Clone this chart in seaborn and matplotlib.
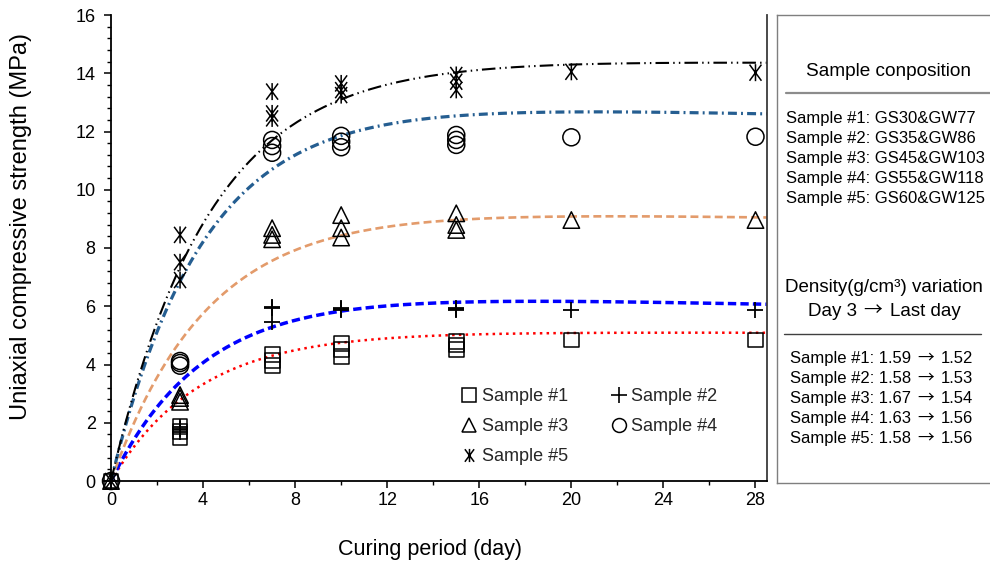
import numpy as np
import pandas as pd
import seaborn as sns
import matplotlib.pyplot as plt
from matplotlib.path import Path
from matplotlib.lines import Line2D
from matplotlib.ticker import MultipleLocator

# ---------------- data ----------------
days = [0, 3, 3, 3, 7, 7, 7, 10, 10, 10, 15, 15, 15, 20, 28]
sample1 = [0, 1.86, 1.69, 1.50, 4.33, 4.15, 3.98, 4.73, 4.50, 4.27, 4.78, 4.67, 4.50, 4.84, 4.84]
sample2 = [0, 1.87, 1.80, 1.69, 5.99, 5.93, 5.47, 5.95, 5.90, 5.87, 5.94, 5.90, 5.87, 5.87, 5.87]
sample3 = [0, 2.95, 2.85, 2.72, 8.68, 8.45, 8.30, 9.13, 8.68, 8.36, 9.19, 8.79, 8.62, 8.96, 8.96]
sample4 = [0, 4.12, 4.05, 3.96, 11.71, 11.50, 11.27, 11.85, 11.65, 11.46, 11.88, 11.71, 11.54, 11.80, 11.82]
sample5 = [0, 8.45, 7.51, 6.90, 13.37, 12.62, 12.45, 13.65, 13.42, 13.25, 13.94, 13.71, 13.43, 14.05, 14.02]

sample_names = ["Sample #1", "Sample #2", "Sample #3", "Sample #4", "Sample #5"]

# trend line: f(t) = A * (1 - exp(-k t)) + d * t
trend_A = [5.15, 6.53, 9.40, 13.10, 14.55]
trend_k = [0.26, 0.25, 0.24, 0.25, 0.235]
trend_d = [-0.002, -0.016, -0.012, -0.017, -0.006]

composition_labels = [
    "Sample #1: GS30&GW77",
    "Sample #2: GS35&GW86",
    "Sample #3: GS45&GW103",
    "Sample #4: GS55&GW118",
    "Sample #5: GS60&GW125",
]
density_day3 = [1.59, 1.58, 1.67, 1.63, 1.58]
density_last = [1.52, 1.53, 1.54, 1.56, 1.56]

# ---------------- styling ----------------
sns.set_theme(style="white")
plt.rcParams["font.family"] = ["Liberation Sans", "DejaVu Sans"]

W, H = 990, 567
fig = plt.figure(figsize=(W / 100, H / 100), dpi=100)
renderer = fig.canvas.get_renderer()


def fx(x):
    return x / W


def fy(y):
    return 1 - y / H


ax = fig.add_axes([fx(111), fy(481), fx(767) - fx(111), fy(15) - fy(481)])

# asterisk marker: vertical stroke plus a narrow X
asterisk = Path(
    [(0, -1), (0, 1), (-0.7, -0.95), (0.7, 0.95), (-0.7, 0.95), (0.7, -0.95)],
    [Path.MOVETO, Path.LINETO, Path.MOVETO, Path.LINETO, Path.MOVETO, Path.LINETO],
)
markers = ["s", "+", "^", "o", asterisk]
sizes = [115, 140, 140, 150, 150]

df = pd.DataFrame({"day": days})
for name, vals in zip(sample_names, [sample1, sample2, sample3, sample4, sample5]):
    df[name] = vals

for name, m, s in zip(sample_names, markers, sizes):
    if m == "+":
        sns.scatterplot(data=df, x="day", y=name, marker=m, s=s, color="black",
                        linewidth=1.3, ax=ax, clip_on=False, zorder=3)
    else:
        sns.scatterplot(data=df, x="day", y=name, marker=m, s=s, facecolor="none",
                        edgecolor="black", linewidth=1.1, ax=ax, clip_on=False, zorder=3)

# trend lines
line_colors = ["#FF0000", "#0000FF", "#E39B6B", "#255E91", "#000000"]
line_widths = [1.8, 2.5, 1.9, 2.3, 1.5]
line_dashes = [
    (1.0, 1.7),
    (2.4, 1.2),
    (3.0, 1.6),
    (2.8, 1.3, 0.6, 1.3),
    (6.5, 2.0, 0.7, 2.0, 0.7, 2.0),
]
t = np.linspace(0, 28.6, 400)
for A, k, d, c, lw, dash in zip(trend_A, trend_k, trend_d, line_colors, line_widths, line_dashes):
    sns.lineplot(x=t, y=A * (1 - np.exp(-k * t)) + d * t, ax=ax, color=c,
                 linewidth=lw, linestyle=(0, dash), estimator=None, zorder=2)

ax.set_xlim(0, 28.5)
ax.set_ylim(0, 16)
ax.xaxis.set_major_locator(MultipleLocator(4))
ax.xaxis.set_minor_locator(MultipleLocator(2))
ax.yaxis.set_major_locator(MultipleLocator(2))
ax.yaxis.set_minor_locator(MultipleLocator(0.4))
ax.tick_params(axis="both", which="major", direction="out", length=5, width=1.1,
               color="black", labelsize=13, labelcolor="black")
ax.tick_params(axis="y", which="major", pad=6)
ax.tick_params(axis="x", which="major", pad=3)
ax.tick_params(axis="both", which="minor", direction="out", length=3, width=1.0, color="black")
ax.tick_params(bottom=True, left=True, which="both")

for side in ["left", "bottom"]:
    ax.spines[side].set_color("black")
    ax.spines[side].set_linewidth(1.3)
ax.spines["right"].set_color("#3a3a3a")
ax.spines["right"].set_linewidth(1.3)
ax.spines["top"].set_visible(False)

ax.set_xlabel("Curing period (day)", fontsize=15.5, color="black")
ax.set_ylabel("Uniaxial compressive strength (MPa)", fontsize=17, color="black")
ax.xaxis.set_label_coords((430 - 111) / 656, (481 - 549) / 466)
ax.yaxis.set_label_coords((21 - 111) / 656, (481 - 226) / 466)
ax.xaxis.label.set_va("center")
ax.yaxis.label.set_va("center")
ax.yaxis.label.set_ha("center")

# legend: rows S1/S2, S3/S4, S5
order = [0, 2, 4, 1, 3]
handles = []
for i in order:
    m = markers[i]
    if m == "+":
        h = Line2D([], [], marker=m, linestyle="none", color="black", markersize=11, mew=1.2)
    else:
        h = Line2D([], [], marker=m, linestyle="none", markerfacecolor="none",
                   markeredgecolor="black", markersize=9.5 if m != "o" else 10, mew=1.1)
    handles.append(h)
ax.legend(handles, [sample_names[i] for i in order], ncol=2, frameon=False,
          loc="upper left", bbox_to_anchor=((462 - 111) / 656, (481 - 388) / 466),
          borderaxespad=0, borderpad=0, fontsize=13, handlelength=0.8,
          handletextpad=0.3, columnspacing=2.4, labelspacing=0.72)

# ---------------- side panel ----------------
panel = fig.add_axes([fx(777), fy(483), fx(1010) - fx(777), fy(15) - fy(483)])
panel.set_xticks([])
panel.set_yticks([])
for sp in panel.spines.values():
    sp.set_color("#7f7f7f")
    sp.set_linewidth(1.0)
panel.set_facecolor("white")


def arrow_line(x, y_base, left, right, size, center=False):
    """Write 'left → right' on one baseline with a thin CJK-font arrow."""
    pieces = [(left, size, None), ("\u2192", size, ["Noto Sans CJK KR", "DejaVu Sans"]),
              (right, size, None)]
    texts = []
    for s, fs, fam in pieces:
        kw = dict(fontsize=fs, ha="left", va="baseline", color="black")
        if fam:
            kw["family"] = fam
        texts.append(fig.text(0, 0, s, **kw))
    widths = [tx.get_window_extent(renderer).width for tx in texts]
    gap = size * 100 / 72 * 0.38
    total = sum(widths) + gap * (len(texts) - 1)
    cur = x - total / 2 if center else x
    for tx, w in zip(texts, widths):
        tx.set_position((cur / W, fy(y_base)))
        cur += w + gap


fig.text(fx(888), fy(71), "Sample conposition", fontsize=13.7, ha="center", va="center",
         color="black")
fig.add_artist(Line2D([fx(786), fx(995)], [fy(93), fy(93)], color="#8c8c8c", lw=1.6))
for i, lab in enumerate(composition_labels):
    fig.text(fx(786), fy(118 + 20 * i), lab, fontsize=12, ha="left", va="center", color="black")

fig.text(fx(884), fy(287), "Density(g/cm\u00b3) variation", fontsize=13.5, ha="center",
         va="center", color="black")
arrow_line(884, 316, "Day 3", "Last day", 13.5, center=True)
fig.add_artist(Line2D([fx(784), fx(981)], [fy(334), fy(334)], color="#404040", lw=1.0))
for i, (a, b) in enumerate(zip(density_day3, density_last)):
    arrow_line(790, 363 + 20 * i, f"{sample_names[i]}: {a:.2f}", f"{b:.2f}", 12)

fig.savefig("out.png", dpi=100, facecolor="white")
